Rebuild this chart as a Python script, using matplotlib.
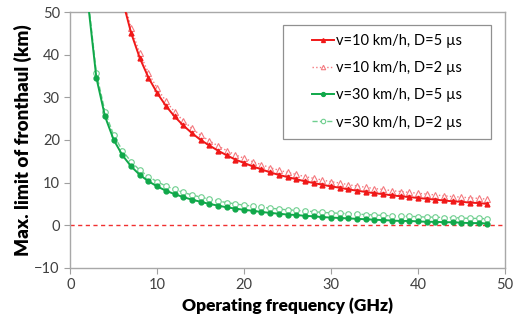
import numpy as np
import matplotlib
matplotlib.use("Agg")
import matplotlib.pyplot as plt
from matplotlib.patches import Rectangle

plt.rcParams['font.family'] = ['Lato', 'DejaVu Sans']

# operating frequency (GHz)
freq = list(range(2, 49))

# max. fronthaul limit (km)
red_d5 = [162.4, 107.6, 80.3, 63.8, 52.9, 45.1, 39.2, 34.6, 31.0, 28.0, 25.5, 23.4,
          21.6, 20.0, 18.7, 17.5, 16.4, 15.4, 14.6, 13.8, 13.1, 12.4, 11.8, 11.3,
          10.8, 10.3, 9.9, 9.5, 9.1, 8.8, 8.4, 8.1, 7.8, 7.5, 7.3, 7.0, 6.8, 6.6,
          6.4, 6.2, 6.0, 5.8, 5.6, 5.5, 5.3, 5.2, 5.0]
red_d2 = [163.5, 108.7, 81.4, 64.9, 54.0, 46.2, 40.3, 35.7, 32.1, 29.1, 26.6, 24.5,
          22.7, 21.1, 19.8, 18.6, 17.5, 16.5, 15.7, 14.9, 14.2, 13.5, 12.9, 12.4,
          11.9, 11.4, 11.0, 10.6, 10.2, 9.9, 9.5, 9.2, 8.9, 8.6, 8.4, 8.1, 7.9, 7.7,
          7.5, 7.3, 7.1, 6.9, 6.7, 6.6, 6.4, 6.3, 6.1]
green_d5 = [52.9, 34.6, 25.5, 20.0, 16.4, 13.8, 11.8, 10.3, 9.1, 8.1, 7.3, 6.6,
            6.0, 5.5, 5.0, 4.6, 4.2, 3.9, 3.6, 3.4, 3.1, 2.9, 2.7, 2.5, 2.4, 2.2,
            2.1, 1.9, 1.8, 1.7, 1.6, 1.5, 1.4, 1.3, 1.2, 1.1, 1.0, 1.0, 0.9, 0.8,
            0.8, 0.7, 0.7, 0.6, 0.5, 0.5, 0.4]
green_d2 = [54.0, 35.7, 26.6, 21.1, 17.5, 14.9, 12.9, 11.4, 10.2, 9.2, 8.4, 7.7,
            7.1, 6.6, 6.1, 5.7, 5.3, 5.0, 4.7, 4.5, 4.2, 4.0, 3.8, 3.6, 3.5, 3.3,
            3.2, 3.0, 2.9, 2.8, 2.7, 2.6, 2.5, 2.4, 2.3, 2.2, 2.1, 2.1, 2.0, 1.9,
            1.9, 1.8, 1.8, 1.7, 1.6, 1.6, 1.5]

labels = ['v=10 km/h, D=5 µs', 'v=10 km/h, D=2 µs',
          'v=30 km/h, D=5 µs', 'v=30 km/h, D=2 µs']

x_ticks = [0, 10, 20, 30, 40, 50]
y_ticks = [-10, 0, 10, 20, 30, 40, 50]

fig = plt.figure(figsize=(5.13, 3.34), dpi=100)
ax = fig.add_axes([0.137, 0.198, 0.847, 0.766])

red = '#f01818'
red_light = '#f47a80'
green = '#10a84a'
green_light = '#6fcf8f'

ax.axhline(0, color='#f03030', lw=1.0, ls=(0, (3, 2.5)), zorder=1)

ax.plot(freq, red_d2, color=red_light, ls=':', lw=1.0, marker='^', ms=4,
        mfc='white', mec=red_light, mew=0.8, label=labels[1], zorder=2)
ax.plot(freq, red_d5, color=red, ls='-', lw=1.4, marker='^', ms=3.5,
        mfc=red, mec=red, label=labels[0], zorder=3)
ax.plot(freq, green_d2, color=green_light, ls='--', lw=1.0, marker='o', ms=4,
        mfc='white', mec=green_light, mew=0.8, label=labels[3], zorder=2)
ax.plot(freq, green_d5, color=green, ls='-', lw=1.4, marker='o', ms=3.5,
        mfc=green, mec=green, label=labels[2], zorder=3)

ax.set_xlim(0, 50)
ax.set_ylim(-10, 50)
ax.set_xticks(x_ticks)
ax.set_yticks(y_ticks)
ax.tick_params(labelsize=10.5, colors='#404040', length=4, width=0.8,
               color='#a0a0a0', direction='out')
for s in ax.spines.values():
    s.set_color('#a8a8a8')
    s.set_linewidth(1.0)

ax.set_xlabel('Operating frequency (GHz)', fontsize=12.5, fontweight='heavy', labelpad=4)
ax.set_ylabel('Max. limit of fronthaul (km)', fontsize=13.5, fontweight='heavy', labelpad=2)

# legend box drawn separately, entries centred inside it
ax.add_patch(Rectangle((0.49, 0.504), 0.478, 0.445, transform=ax.transAxes,
                       facecolor='white', edgecolor='#909090', lw=0.9, zorder=4))
h, l = ax.get_legend_handles_labels()
order = [1, 0, 3, 2]
leg = ax.legend([h[i] for i in order], [l[i] for i in order], loc='center',
                bbox_to_anchor=(0.729, 0.727), fontsize=10.5, frameon=False,
                handlelength=1.5, handletextpad=0.1, labelspacing=0.9,
                borderpad=0.3, markerscale=0.8)
leg.set_zorder(5)

fig.savefig('out.png', dpi=100)
